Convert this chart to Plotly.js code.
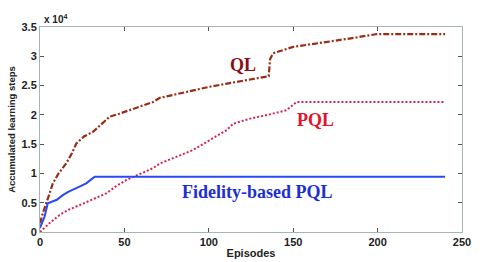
<!DOCTYPE html>
<html><head><meta charset="utf-8">
<script src="https://cdn.plot.ly/plotly-3.0.1.min.js"></script>
<style>html,body{margin:0;padding:0;background:#fff;}#chart{width:484px;height:262px;}</style>
</head><body><div id="chart"></div>
<script>
// Accumulated learning steps vs episodes
const qlEpisodes = [0, 2, 5, 7.6, 11, 15.5, 19, 21.5, 26, 31.4, 36, 41.3, 47, 53, 60, 67, 71, 80, 90, 100.6, 110, 120, 130, 135.5, 136.3, 138, 150, 160, 170, 185, 199.6, 210, 225, 240];
const qlSteps    = [1500, 3500, 6000, 8300, 10000, 11700, 13500, 15100, 16300, 17100, 18300, 19700, 20200, 20800, 21600, 22200, 22900, 23500, 24100, 24800, 25300, 25800, 26400, 26600, 29500, 30500, 31600, 32000, 32400, 33100, 33800, 33800, 33800, 33800];
const pqlEpisodes = [0, 2, 5.6, 11.6, 17, 23.5, 31, 39.3, 45, 51.2, 60, 67, 71, 80, 90.7, 100, 110.6, 114.5, 125, 135, 146, 152, 170, 200, 240];
const pqlSteps    = [0, 600, 1500, 2900, 3800, 4600, 5600, 6600, 7800, 8900, 10000, 10900, 11700, 12800, 14000, 15600, 17400, 18500, 19400, 20000, 20800, 22200, 22200, 22200, 22200];
const fidEpisodes = [0, 0.7, 2.7, 4.6, 7.6, 10, 13.5, 17, 21.5, 25, 27.4, 30, 32.4, 50, 100, 150, 200, 240];
const fidSteps    = [700, 1200, 2600, 4900, 5200, 5500, 6300, 6900, 7500, 8000, 8300, 8900, 9450, 9450, 9450, 9450, 9450, 9450];
const xTicks = [0, 50, 100, 150, 200, 250];
const yTickVals = [0, 5000, 10000, 15000, 20000, 25000, 30000, 35000];
const yTickText = ['0', '0.5', '1', '1.5', '2', '2.5', '3', '3.5'];
const seriesNames = ['QL', 'PQL', 'Fidelity-based PQL'];

const traces = [
  {x: qlEpisodes, y: qlSteps, mode: 'lines', name: seriesNames[0],
   line: {color: '#9a2c14', width: 2.2, dash: '6px,2px,2px,2px'}},
  {x: pqlEpisodes, y: pqlSteps, mode: 'lines', name: seriesNames[1],
   line: {color: '#d8204f', width: 2, dash: '2px,2px'}},
  {x: fidEpisodes, y: fidSteps, mode: 'lines', name: seriesNames[2],
   line: {color: '#2a48f5', width: 2}}
];

const axisCommon = {showgrid: false, zeroline: false, showline: true, linecolor: '#a8b4b4', linewidth: 1,
  mirror: 'ticks', ticks: 'inside', ticklen: 4, tickcolor: '#555',
  tickfont: {family: 'Arial, Liberation Sans, sans-serif', size: 11, color: '#222', weight: 'bold'}};

const layout = {
  width: 484, height: 262,
  margin: {l: 40, r: 22, t: 27, b: 30},
  paper_bgcolor: '#fff', plot_bgcolor: '#fff',
  showlegend: false,
  xaxis: Object.assign({}, axisCommon, {range: [0, 250], tickvals: xTicks, ticktext: xTicks.map(String),
    title: {text: '<b>Episodes</b>', standoff: 2, font: {family: 'Arial, Liberation Sans, sans-serif', size: 11, color: '#222'}}}),
  yaxis: Object.assign({}, axisCommon, {range: [0, 35000], tickvals: yTickVals, ticktext: yTickText,
    title: {text: '<b>Accumulated learning steps</b>', standoff: 4, font: {family: 'Arial, Liberation Sans, sans-serif', size: 9.5, color: '#222'}}}),
  annotations: [
    {xref: 'paper', yref: 'paper', x: 0.005, y: 1.0, xanchor: 'left', yanchor: 'bottom', showarrow: false,
     text: 'x 10<sup>4</sup>', font: {family: 'Arial, Liberation Sans, sans-serif', size: 10, color: '#222', weight: 'bold'}},
    {xref: 'x', yref: 'y', x: 120, y: 28500, showarrow: false, text: '<b>QL</b>',
     font: {family: 'Times New Roman, Liberation Serif, serif', size: 18, color: '#8c0d18'}},
    {xref: 'x', yref: 'y', x: 163, y: 19100, showarrow: false, text: '<b>PQL</b>',
     font: {family: 'Times New Roman, Liberation Serif, serif', size: 18, color: '#e4142c'}},
    {xref: 'x', yref: 'y', x: 129, y: 6800, showarrow: false, text: '<b>Fidelity-based PQL</b>',
     font: {family: 'Times New Roman, Liberation Serif, serif', size: 18, color: '#1c2ed6'}}
  ]
};

Plotly.newPlot('chart', traces, layout, {staticPlot: true, displayModeBar: false});
</script></body></html>
